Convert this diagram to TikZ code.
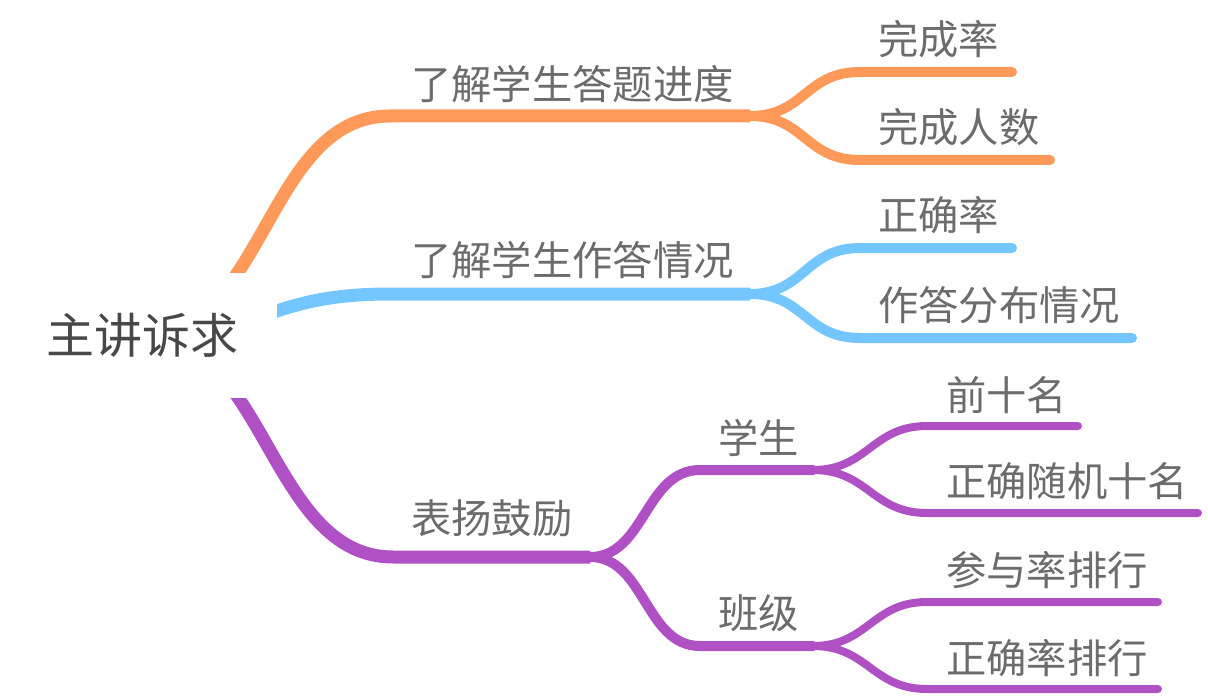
\documentclass[tikz,border=0pt]{standalone}
\usepackage{fontspec}
\newfontfamily\cjk{Noto Sans CJK SC}
\usetikzlibrary{backgrounds}

\definecolor{mmorange}{RGB}{255,153,90}
\definecolor{mmblue}{RGB}{115,198,255}
\definecolor{mmpurple}{RGB}{175,80,196}
\definecolor{mmtext}{RGB}{108,108,108}
\definecolor{mmroot}{RGB}{72,72,72}

\newcommand*{\cx}{124}
\newcommand*{\sx}{55}

\begin{document}
\begin{tikzpicture}
[
	x=1pt,y=-1pt,
	topic/.style={anchor=base west,inner sep=0pt,text=mmtext,font=\cjk\fontsize{40.3}{41}\selectfont},
	rootbox/.style={fill=white,minimum width=270pt,minimum height=125pt,inner sep=0pt,text=mmroot,font=\cjk\fontsize{48}{48}\selectfont},
	main/.style={line width=13pt},
	sub/.style={line width=10pt,line cap=round},
	leaf/.style={line width=8pt,line cap=round}
]

	\useasboundingbox (0,0) rectangle (1208,698);

	% root
	\node[rootbox] (root) at (142,335) {主讲诉求};

	% labels
	\node[topic] (prog) at (411,100) {了解学生答题进度};
	\node[topic] (done) at (878,55) {完成率};
	\node[topic] (num) at (878,143) {完成人数};
	\node[topic] (sit) at (411,275) {了解学生作答情况};
	\node[topic] (acc) at (878,230) {正确率};
	\node[topic] (dist) at (878,320) {作答分布情况};
	\node[topic] (praise) at (411,533) {表扬鼓励};
	\node[topic] (stu) at (718,453) {学生};
	\node[topic] (cls) at (718,628) {班级};
	\node[topic] (top) at (946,410) {前十名};
	\node[topic] (rand) at (946,496) {正确随机十名};
	\node[topic] (part) at (946,585) {参与率排行};
	\node[topic] (corr) at (946,673) {正确率排行};

	% line ends
	\coordinate (prog-s) at (390,116);
	\coordinate (prog-e) at (750,116);
	\coordinate (done-s) at (860,72);
	\coordinate (done-e) at (1012,72);
	\coordinate (num-s) at (860,160);
	\coordinate (num-e) at (1050,160);
	\coordinate (sit-s) at (390,294);
	\coordinate (sit-e) at (750,294);
	\coordinate (acc-s) at (860,248);
	\coordinate (acc-e) at (1012,248);
	\coordinate (dist-s) at (860,338);
	\coordinate (dist-e) at (1132,338);
	\coordinate (praise-s) at (393,557);
	\coordinate (praise-e) at (590,557);
	\coordinate (stu-s) at (700,470);
	\coordinate (stu-e) at (813,470);
	\coordinate (cls-s) at (700,646);
	\coordinate (cls-e) at (813,646);
	\coordinate (top-s) at (927,426);
	\coordinate (top-e) at (1078,426);
	\coordinate (rand-s) at (927,513);
	\coordinate (rand-e) at (1198,513);
	\coordinate (part-s) at (927,602);
	\coordinate (part-e) at (1158,602);
	\coordinate (corr-s) at (927,689);
	\coordinate (corr-e) at (1158,689);

	\begin{scope}[on background layer]
		% orange branch
		\draw[main,mmorange] (root.center) .. controls +(\cx,0) and +(-\cx,0) .. (prog-s) -- (prog-e);
		\draw[sub,mmorange] (prog-e) .. controls +(\sx,0) and +(-\sx,0) .. (done-s) -- (done-e);
		\draw[sub,mmorange] (prog-e) .. controls +(\sx,0) and +(-\sx,0) .. (num-s) -- (num-e);

		% blue branch
		\draw[main,mmblue] (root.center) .. controls +(\cx,0) and +(-\cx,0) .. (sit-s) -- (sit-e);
		\draw[sub,mmblue] (sit-e) .. controls +(\sx,0) and +(-\sx,0) .. (acc-s) -- (acc-e);
		\draw[sub,mmblue] (sit-e) .. controls +(\sx,0) and +(-\sx,0) .. (dist-s) -- (dist-e);

		% purple branch
		\draw[main,mmpurple] (root.center) .. controls +(\cx,0) and +(-\cx,0) .. (praise-s) -- (praise-e);
		\draw[sub,mmpurple] (praise-e) .. controls +(\sx,0) and +(-\sx,0) .. (stu-s) -- (stu-e);
		\draw[sub,mmpurple] (praise-e) .. controls +(\sx,0) and +(-\sx,0) .. (cls-s) -- (cls-e);
		\draw[leaf,mmpurple] (stu-e) .. controls +(\sx,0) and +(-\sx,0) .. (top-s) -- (top-e);
		\draw[leaf,mmpurple] (stu-e) .. controls +(\sx,0) and +(-\sx,0) .. (rand-s) -- (rand-e);
		\draw[leaf,mmpurple] (cls-e) .. controls +(\sx,0) and +(-\sx,0) .. (part-s) -- (part-e);
		\draw[leaf,mmpurple] (cls-e) .. controls +(\sx,0) and +(-\sx,0) .. (corr-s) -- (corr-e);
	\end{scope}

\end{tikzpicture}
\end{document}
